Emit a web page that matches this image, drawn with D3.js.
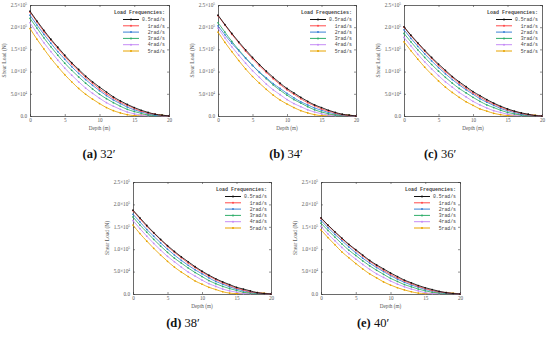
<!DOCTYPE html>
<html><head><meta charset="utf-8">
<script src="https://cdn.jsdelivr.net/npm/d3@7"></script>
<style>body{margin:0;background:#fff}svg{display:block}</style>
</head><body>
<svg id="c" width="550" height="344"></svg>
<script>
// ---- data (shear load in units of 1e5 N) ----
const depths = [0,1,2,3,4,5,6,7,8,9,10,11,12,13,14,15,16,17,18,19,20];
const seriesNames = ["0.5rad/s","1rad/s","2rad/s","3rad/s","4rad/s","5rad/s"];
const seriesColors = ["#111111","#ff4a4a","#3b82d6","#2fae6a","#c58cf5","#e8a400"];
const yTickValues = [0,0.5,1.0,1.5,2.0,2.5];
const yTickMant = ["0.0","5.0","1.0","1.5","2.0","2.5"];
const yTickExp = ["","4","5","5","5","5"];
const xTickValues = [0,5,10,15,20];
const captionLetters = ["(a)","(b)","(c)","(d)","(e)"];
const captionAngles = ["32′","34′","36′","38′","40′"];

const panelA = [
 [2.36,2.14,1.93,1.73,1.55,1.37,1.20,1.05,0.90,0.77,0.65,0.54,0.43,0.34,0.26,0.19,0.13,0.08,0.04,0.02,0],
 [2.34,2.12,1.90,1.71,1.52,1.34,1.17,1.02,0.87,0.74,0.61,0.50,0.40,0.31,0.24,0.17,0.11,0.07,0.04,0.01,0],
 [2.27,2.05,1.84,1.64,1.45,1.28,1.11,0.96,0.82,0.69,0.57,0.46,0.36,0.28,0.20,0.14,0.09,0.05,0.02,0.01,0],
 [2.20,1.98,1.76,1.56,1.37,1.19,1.03,0.88,0.74,0.61,0.49,0.39,0.30,0.22,0.15,0.10,0.06,0.02,0.01,0.01,0],
 [2.10,1.87,1.65,1.45,1.26,1.08,0.92,0.77,0.63,0.51,0.40,0.30,0.22,0.15,0.09,0.05,0.02,0.01,0.02,0.01,0],
 [1.97,1.73,1.51,1.30,1.11,0.93,0.77,0.62,0.49,0.38,0.28,0.19,0.12,0.07,0.03,0.01,0.02,0.03,0.03,0.02,0]
];
const panelB = [
 [2.27,2.06,1.86,1.67,1.49,1.32,1.16,1.01,0.87,0.74,0.62,0.52,0.42,0.33,0.25,0.19,0.13,0.08,0.04,0.02,0],
 [2.26,2.05,1.84,1.65,1.46,1.29,1.13,0.98,0.84,0.71,0.59,0.49,0.39,0.30,0.23,0.16,0.11,0.07,0.03,0.01,0],
 [2.03,1.83,1.64,1.47,1.30,1.14,0.99,0.86,0.73,0.62,0.51,0.41,0.32,0.25,0.18,0.13,0.08,0.05,0.02,0.01,0],
 [2.10,1.89,1.68,1.49,1.31,1.14,0.98,0.84,0.70,0.58,0.47,0.37,0.29,0.21,0.14,0.09,0.05,0.02,0.01,0.01,0],
 [1.98,1.76,1.56,1.37,1.19,1.02,0.87,0.72,0.59,0.48,0.37,0.28,0.21,0.14,0.09,0.05,0.02,0.01,0.02,0.01,0],
 [1.89,1.66,1.45,1.25,1.06,0.89,0.74,0.60,0.47,0.36,0.27,0.19,0.12,0.07,0.03,0.01,0.02,0.03,0.03,0.02,0]
];
const panelC = [
 [2.01,1.82,1.65,1.48,1.32,1.17,1.03,0.89,0.77,0.66,0.55,0.46,0.37,0.29,0.22,0.16,0.11,0.07,0.04,0.01,0],
 [2.00,1.81,1.63,1.46,1.30,1.14,1.00,0.87,0.74,0.63,0.52,0.43,0.34,0.27,0.20,0.14,0.10,0.06,0.03,0.01,0],
 [1.94,1.75,1.57,1.40,1.24,1.09,0.95,0.82,0.70,0.59,0.49,0.39,0.31,0.24,0.17,0.12,0.08,0.04,0.02,0.01,0],
 [1.86,1.67,1.49,1.32,1.16,1.01,0.87,0.74,0.62,0.52,0.42,0.33,0.25,0.19,0.13,0.08,0.05,0.02,0.01,0.01,0],
 [1.77,1.58,1.39,1.22,1.06,0.91,0.77,0.65,0.53,0.43,0.33,0.25,0.18,0.12,0.08,0.04,0.02,0.01,0.02,0.01,0],
 [1.67,1.47,1.28,1.10,0.94,0.79,0.65,0.53,0.42,0.32,0.24,0.16,0.11,0.06,0.03,0.01,0.02,0.03,0.03,0.02,0]
];
const panelD = [
 [1.87,1.70,1.53,1.37,1.22,1.08,0.95,0.83,0.72,0.61,0.51,0.42,0.34,0.27,0.21,0.15,0.11,0.07,0.03,0.01,0],
 [1.86,1.68,1.51,1.36,1.21,1.06,0.93,0.81,0.69,0.59,0.49,0.40,0.32,0.25,0.19,0.13,0.09,0.05,0.03,0.01,0],
 [1.78,1.61,1.44,1.29,1.14,1.00,0.87,0.75,0.64,0.54,0.45,0.36,0.28,0.22,0.16,0.11,0.07,0.04,0.02,0.01,0],
 [1.72,1.54,1.38,1.22,1.07,0.93,0.80,0.69,0.58,0.48,0.39,0.30,0.23,0.17,0.12,0.08,0.04,0.02,0.01,0.01,0],
 [1.64,1.46,1.29,1.13,0.98,0.84,0.72,0.60,0.49,0.40,0.31,0.23,0.17,0.11,0.07,0.04,0.01,0.01,0.02,0.01,0],
 [1.54,1.35,1.18,1.02,0.87,0.73,0.60,0.49,0.39,0.29,0.22,0.15,0.10,0.05,0.02,0.01,0.02,0.03,0.03,0.02,0]
];
const panelE = [
 [1.70,1.54,1.39,1.25,1.11,0.99,0.87,0.75,0.65,0.56,0.47,0.39,0.31,0.25,0.19,0.14,0.10,0.06,0.03,0.01,0],
 [1.69,1.53,1.38,1.23,1.10,0.97,0.85,0.73,0.63,0.53,0.44,0.36,0.29,0.23,0.17,0.12,0.08,0.05,0.03,0.01,0],
 [1.64,1.48,1.33,1.19,1.05,0.92,0.80,0.69,0.59,0.50,0.41,0.33,0.26,0.20,0.15,0.10,0.07,0.04,0.02,0.01,0],
 [1.58,1.42,1.27,1.12,0.98,0.86,0.74,0.63,0.53,0.44,0.35,0.28,0.21,0.16,0.11,0.07,0.04,0.02,0.01,0.01,0],
 [1.51,1.34,1.19,1.04,0.90,0.78,0.66,0.55,0.45,0.37,0.29,0.22,0.16,0.11,0.07,0.03,0.01,0.01,0.02,0.01,0],
 [1.43,1.26,1.10,0.94,0.81,0.68,0.56,0.45,0.36,0.27,0.20,0.14,0.09,0.05,0.02,0.01,0.02,0.03,0.03,0.02,0]
];
const panelData = [panelA, panelB, panelC, panelD, panelE];

// ---- layout ----
const layout = [
 {l:30, t:5, w:139, h:111, cx:99, cy:158},
 {l:218, t:5, w:138, h:111, cx:286, cy:158},
 {l:404, t:5, w:138, h:111, cx:440, cy:158},
 {l:133, t:182, w:138, h:112, cx:183, cy:327},
 {l:321, t:182, w:139, h:112, cx:373, cy:327}
];
const svg = d3.select("#c");
const mono = "'Liberation Mono', 'DejaVu Sans Mono', monospace";
const serif = "'Liberation Serif', 'DejaVu Serif', serif";
const txtCol = "#555";

layout.forEach((L, pi) => {
  const g = svg.append("g").attr("transform", `translate(${L.l},${L.t})`);
  const x = d3.scaleLinear().domain([0,20]).range([0,L.w]);
  const y = d3.scaleLinear().domain([0,2.5]).range([L.h,0]);

  const axB = d3.axisBottom(x).tickValues(xTickValues).tickSize(-2).tickPadding(2.5).tickFormat(d3.format("d"));
  const axT = d3.axisTop(x).tickValues(xTickValues).tickSize(-2).tickFormat("");
  const axL = d3.axisLeft(y).tickValues(yTickValues).tickSize(-2).tickFormat("");
  const axR = d3.axisRight(y).tickValues(yTickValues).tickSize(-2).tickFormat("");
  const gb = g.append("g").attr("transform",`translate(0,${L.h})`).call(axB);
  g.append("g").call(axT);
  g.append("g").call(axL);
  g.append("g").attr("transform",`translate(${L.w},0)`).call(axR);
  g.selectAll(".domain").attr("stroke","#444").attr("stroke-width",0.8);
  g.selectAll(".tick line").attr("stroke","#444").attr("stroke-width",0.6);
  gb.selectAll(".tick text").attr("font-family",serif).attr("font-size",5.2).attr("fill",txtCol);

  yTickValues.forEach((v,i) => {
    const t = g.append("text").attr("x",-3).attr("y",y(v)+1.8)
      .attr("text-anchor","end").attr("font-family",serif).attr("font-size",5.2).attr("fill",txtCol);
    if (yTickExp[i]) {
      t.append("tspan").text(yTickMant[i] + "×10");
      t.append("tspan").attr("font-size",3.4).attr("dy",-2).text(yTickExp[i]);
    } else t.text(yTickMant[i]);
  });

  g.append("text").attr("x",L.w/2).attr("y",L.h+13.5).attr("text-anchor","middle")
    .attr("font-family",serif).attr("font-size",5.2).attr("fill",txtCol).text("Depth (m)");
  g.append("text").attr("transform",`translate(${-24},${L.h/2}) rotate(-90)`).attr("text-anchor","middle")
    .attr("font-family",serif).attr("font-size",5.5).attr("fill",txtCol).text("Shear Load (N)");

  const line = d3.line().x((d,i)=>x(depths[i])).y(d=>y(d)).curve(d3.curveMonotoneX);
  const data = panelData[pi];
  for (let s = data.length-1; s >= 0; s--) {
    g.append("path").attr("d", line(data[s])).attr("fill","none")
      .attr("stroke", seriesColors[s]).attr("stroke-width",0.85);
    g.selectAll(null).data(data[s]).enter().append("circle")
      .attr("cx",(d,i)=>x(depths[i])).attr("cy",d=>y(d)).attr("r",0.85)
      .attr("fill", seriesColors[s]);
  }

  const lg = g.append("g");
  lg.append("text").attr("x",L.w-4).attr("y",8.5).attr("text-anchor","end")
    .attr("font-family",mono).attr("font-size",5).attr("font-weight","bold").attr("fill","#444").text("Load Frequencies:");
  seriesNames.forEach((n,i) => {
    const yy = 14.5 + i*6.3;
    lg.append("line").attr("x1",L.w-46).attr("x2",L.w-30).attr("y1",yy).attr("y2",yy)
      .attr("stroke",seriesColors[i]).attr("stroke-width",1);
    lg.append("circle").attr("cx",L.w-38).attr("cy",yy).attr("r",1).attr("fill",seriesColors[i]);
    lg.append("text").attr("x",L.w-4).attr("y",yy+1.7).attr("text-anchor","end")
      .attr("font-family",mono).attr("font-size",4.8).attr("fill","#444").text(n);
  });

  const cap = svg.append("text").attr("x",L.cx).attr("y",L.cy).attr("text-anchor","middle")
    .attr("font-family",serif).attr("font-size",12.5).attr("fill","#111");
  cap.append("tspan").attr("font-weight","bold").text(captionLetters[pi]);
  cap.append("tspan").text(" " + captionAngles[pi]);
});
</script>
</body></html>
